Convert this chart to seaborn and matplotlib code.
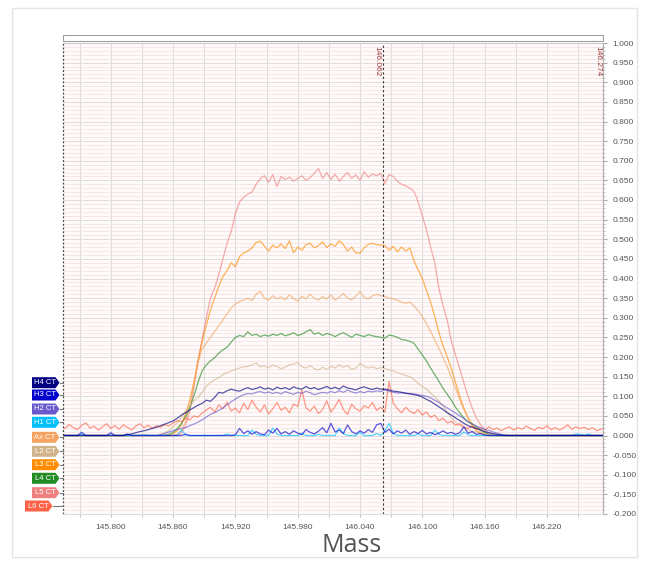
import numpy as np
import pandas as pd
import matplotlib
matplotlib.use("Agg")
import matplotlib.pyplot as plt
from matplotlib.patches import Polygon, Rectangle
from matplotlib.ticker import MultipleLocator, FormatStrFormatter
import seaborn as sns

# ---- data ----------------------------------------------------------
# mass axis: 132 points, 0.004 apart
mass = np.round(145.752 + 0.004 * np.arange(132), 3)

# intensities, in thousandths (12 values per row)
l5_ct = [
    0, 0, 0, 0, 0, 0, 0, 0, 0, 0, 0, 0,
    0, 0, 0, 0, 0, 0, 0, 0, 0, 0, 0, 0,
    0, 0, 0, 0, 0, 5, 25, 60, 120, 190, 245, 300,
    350, 375, 410, 450, 490, 520, 565, 595, 607, 615, 620, 640,
    655, 662, 645, 665, 634, 660, 652, 658, 648, 655, 662, 650,
    657, 668, 680, 655, 670, 652, 666, 648, 660, 670, 655, 664,
    650, 672, 658, 666, 662, 668, 642, 665, 660, 648, 640, 636,
    630, 622, 595, 560, 524, 480, 440, 375, 330, 294, 240, 205,
    170, 135, 100, 70, 45, 28, 15, 7, 3, 0, 0, 0,
    0, 0, 0, 0, 0, 0, 0, 0, 0, 0, 0, 0,
    0, 0, 0, 0, 0, 0, 0, 0, 0, 0, 0, 0,
]
l3_ct = [
    0, 0, 0, 0, 0, 0, 0, 0, 0, 0, 0, 0,
    0, 0, 0, 0, 0, 0, 0, 0, 0, 0, 0, 0,
    0, 0, 0, 4, 12, 28, 55, 90, 135, 190, 240, 280,
    320, 350, 380, 405, 420, 440, 430, 456, 465, 470, 478, 492,
    495, 482, 470, 485, 478, 488, 476, 496, 466, 480, 472, 486,
    490, 478, 484, 493, 479, 488, 482, 496, 486, 470, 480, 465,
    465, 478, 487, 490, 486, 485, 484, 472, 482, 468, 480, 470,
    478, 445, 422, 400, 370, 340, 303, 262, 228, 200, 170, 135,
    100, 70, 45, 25, 12, 5, 2, 0, 0, 0, 0, 0,
    0, 0, 0, 0, 0, 0, 0, 0, 0, 0, 0, 0,
    0, 0, 0, 0, 0, 0, 0, 0, 0, 0, 0, 0,
]
ax_ct = [
    0, 0, 0, 0, 0, 0, 0, 0, 0, 0, 0, 0,
    0, 0, 0, 0, 0, 0, 0, 0, 0, 0, 0, 0,
    0, 0, 0, 0, 3, 12, 35, 75, 130, 185, 220, 235,
    250, 265, 280, 295, 310, 325, 335, 342, 345, 350, 344, 360,
    367, 350, 345, 356, 348, 353, 346, 358, 350, 342, 355, 348,
    360, 350, 345, 354, 348, 358, 345, 352, 362, 350, 346, 355,
    367, 352, 348, 356, 360, 356, 354, 350, 348, 345, 340, 337,
    340, 330, 318, 303, 285, 265, 243, 222, 198, 175, 148, 120,
    92, 66, 45, 30, 18, 10, 5, 2, 0, 0, 0, 0,
    0, 0, 0, 0, 0, 0, 0, 0, 0, 0, 0, 0,
    0, 0, 0, 0, 0, 0, 0, 0, 0, 0, 0, 0,
]
l4_ct = [
    0, 0, 0, 0, 0, 0, 0, 0, 0, 0, 0, 0,
    0, 0, 0, 0, 0, 0, 0, 0, 0, 0, 0, 0,
    0, 0, 3, 8, 18, 30, 48, 70, 100, 135, 165, 180,
    190, 198, 210, 218, 225, 238, 250, 255, 252, 264, 255, 258,
    252, 256, 253, 258, 255, 260, 254, 257, 262, 255, 258, 264,
    270, 258, 262, 255, 260, 257, 252, 258, 262, 256, 250, 258,
    255, 252, 257, 254, 252, 250, 248, 256, 254, 250, 245, 243,
    240, 235, 220, 205, 190, 172, 155, 138, 120, 105, 90, 72,
    58, 45, 35, 30, 22, 15, 8, 3, 0, 0, 0, 0,
    0, 0, 0, 0, 0, 0, 0, 0, 0, 0, 0, 0,
    0, 0, 0, 0, 0, 0, 0, 0, 0, 0, 0, 0,
]
l2_ct = [
    0, 0, 0, 0, 0, 0, 0, 0, 0, 0, 0, 0,
    0, 0, 0, 0, 0, 0, 0, 0, 0, 0, 0, 0,
    3, 7, 13, 22, 33, 47, 62, 75, 88, 97, 110, 125,
    135, 142, 148, 155, 160, 165, 168, 172, 175, 176, 180, 185,
    175, 178, 172, 180, 176, 170, 174, 180, 182, 186, 175, 172,
    178, 170, 167, 174, 168, 176, 172, 180, 174, 178, 168, 172,
    184, 176, 172, 175, 170, 173, 171, 167, 165, 160, 157, 153,
    150, 142, 133, 125, 118, 108, 99, 88, 75, 60, 45, 34,
    26, 19, 15, 11, 9, 6, 4, 2, 0, 0, 0, 0,
    0, 0, 0, 0, 0, 0, 0, 0, 0, 0, 0, 0,
    0, 0, 0, 0, 0, 0, 0, 0, 0, 0, 0, 0,
]
l6_ct = [
    22, 18, 28, 20, 15, 26, 32, 19, 24, 14, 22, 30,
    18, 25, 16, 27, 21, 14, 24, 30, 20, 26, 18, 25,
    21, 28, 24, 32, 38, 35, 44, 40, 50, 47, 57, 65,
    72, 60, 78, 68, 85, 62, 70, 58, 82, 66, 90, 72,
    60, 78, 55, 68, 84, 64, 72, 58, 80, 74, 116, 70,
    62, 75, 56, 66, 88, 60, 74, 92, 66, 54, 80, 68,
    62, 76, 70, 84, 64, 72, 60, 138, 82, 68, 58, 72,
    62, 56, 66, 52, 60, 46, 52, 38, 44, 32, 36, 26,
    30, 22, 18, 24, 16, 20, 14, 22, 15, 19, 12, 18,
    22, 14, 20, 16, 24, 18, 13, 21, 17, 25, 15, 20,
    14, 19, 27, 16, 22, 18, 21, 15, 20, 12, 16, 19,
]
h4_ct = [
    0, 0, 0, 0, 0, 0, 0, 0, 0, 0, 0, 0,
    0, 0, 0, 0, 2, 4, 7, 10, 12, 15, 18, 21,
    25, 29, 33, 37, 44, 52, 58, 65, 71, 77, 82, 90,
    87, 97, 110, 108, 114, 118, 115, 113, 118, 122, 117, 120,
    124, 118, 121, 116, 123, 119, 122, 117, 124, 120, 118, 125,
    119, 122, 117, 121, 125, 119, 123, 118, 126, 121, 119, 116,
    121, 124, 120, 117, 121, 118, 118, 116, 113, 112, 110, 108,
    106, 104, 102, 98, 92, 87, 80, 73, 66, 58, 52, 45,
    38, 31, 25, 21, 18, 14, 10, 7, 5, 3, 1, 0,
    0, 0, 0, 0, 0, 0, 0, 0, 0, 0, 0, 0,
    0, 0, 0, 0, 0, 0, 0, 0, 0, 0, 0, 0,
]
h3_ct = [
    3, 0, 0, 0, 0, 8, 0, 0, 0, 0, 0, 0,
    7, 0, 0, 0, 4, 0, 0, 0, 0, 0, 0, 0,
    0, 0, 0, 0, 0, 0, 3, 0, 0, 0, 0, 0,
    0, 0, 0, 0, 0, 0, 2, 18, 5, 12, 3, 10,
    4, 2, 14, 6, 18, 4, 10, 3, 12, 6, 2, 15,
    8, 4, 11, 20, 7, 31, 9, 14, 5, 27, 10, 4,
    12, 6, 15, 8, 27, 31, 8, 16, 4, 12, 6, 14,
    3, 10, 5, 13, 4, 8, 2, 6, 12, 5, 8, 3,
    7, 22, 6, 10, 3, 5, 1, 0, 0, 0, 0, 0,
    0, 0, 0, 0, 0, 0, 0, 0, 0, 0, 0, 0,
    0, 0, 0, 0, 0, 0, 0, 0, 0, 0, 0, 0,
]
h2_ct = [
    0, 0, 0, 0, 0, 0, 0, 0, 0, 0, 0, 0,
    0, 0, 0, 0, 0, 0, 0, 0, 0, 0, 0, 0,
    2, 5, 9, 12, 15, 18, 20, 25, 29, 34, 40, 47,
    54, 58, 64, 70, 78, 86, 93, 99, 104, 107, 106, 110,
    112, 108, 111, 107, 110, 106, 112, 108, 105, 110, 107, 113,
    109, 104, 107, 110, 108, 112, 109, 114, 110, 116, 111, 108,
    112, 109, 113, 111, 114, 112, 116, 113, 110, 108, 109, 107,
    107, 106, 104, 102, 100, 96, 90, 84, 77, 70, 64, 57,
    50, 43, 35, 29, 24, 20, 16, 13, 9, 6, 3, 1,
    0, 0, 0, 0, 0, 0, 0, 0, 0, 0, 0, 0,
    0, 0, 0, 0, 0, 0, 0, 0, 0, 0, 0, 0,
]
h1_ct = [
    0, 0, 0, 0, 0, 3, 0, 0, 0, 0, 0, 0,
    0, 0, 0, 0, 0, 0, 0, 0, 2, 0, 0, 0,
    0, 0, 0, 0, 0, 14, 2, 0, 0, 0, 0, 0,
    0, 0, 0, 0, 4, 0, 0, 0, 0, 0, 14, 3,
    0, 0, 0, 19, 4, 0, 0, 0, 0, 0, 6, 0,
    0, 0, 3, 0, 0, 0, 0, 19, 5, 0, 0, 0,
    8, 0, 0, 0, 5, 0, 12, 31, 6, 0, 0, 0,
    0, 0, 4, 0, 0, 0, 14, 3, 0, 0, 0, 0,
    0, 9, 2, 0, 0, 0, 0, 0, 0, 0, 0, 0,
    0, 0, 0, 0, 0, 0, 0, 0, 0, 0, 0, 0,
    0, 0, 0, 0, 4, 3, 0, 4, 0, 0, 0, 0,
]

series = {
    "L5 CT": l5_ct, "L3 CT": l3_ct, "Ax CT": ax_ct, "L4 CT": l4_ct,
    "L2 CT": l2_ct, "L6 CT": l6_ct, "H2 CT": h2_ct, "H1 CT": h1_ct,
    "H3 CT": h3_ct, "H4 CT": h4_ct,
}
colors = {
    "H4 CT": "#000080", "H3 CT": "#0000cd", "H2 CT": "#6a5acd",
    "H1 CT": "#00bfff", "Ax CT": "#f4a460", "L2 CT": "#d2b48c",
    "L3 CT": "#ff8c00", "L4 CT": "#228b22", "L5 CT": "#f08080",
    "L6 CT": "#ff6347",
}
tag_names = ["H4 CT", "H3 CT", "H2 CT", "H1 CT", "Ax CT",
             "L2 CT", "L3 CT", "L4 CT", "L5 CT", "L6 CT"]
cursors = [146.062, 146.274]

frames = []
for name, vals in series.items():
    frames.append(pd.DataFrame({"Mass": mass,
                                "Intensity": np.array(vals) / 1000.0,
                                "Trace": name}))
df = pd.concat(frames, ignore_index=True)

# ---- figure --------------------------------------------------------
plt.rcParams["font.family"] = ["Liberation Sans", "DejaVu Sans"]
plt.rcParams["axes.unicode_minus"] = False

W, H = 646, 565
fig = plt.figure(figsize=(W / 100, H / 100), dpi=100)
ax = fig.add_axes([63 / W, 1 - 514 / H, 540 / W, 471 / H])
ax.set_facecolor("#fefafa")

sns.lineplot(data=df, x="Mass", y="Intensity", hue="Trace",
             hue_order=list(series.keys()), palette=colors,
             estimator=None, sort=False, legend=False,
             linewidth=0.9, alpha=0.65, ax=ax)

ax.set_xlim(145.754, 146.274)
ax.set_ylim(-0.2, 1.0)
ax.set_xlabel("")
ax.set_ylabel("")

ax.xaxis.set_major_locator(MultipleLocator(0.06))
ax.xaxis.set_minor_locator(MultipleLocator(0.03))
ax.yaxis.set_major_locator(MultipleLocator(0.05))
ax.yaxis.set_minor_locator(MultipleLocator(0.01))
ax.xaxis.set_major_formatter(FormatStrFormatter("%.3f"))
ax.yaxis.set_major_formatter(FormatStrFormatter("%.3f"))
ax.yaxis.tick_right()

ax.grid(which="both", axis="x", color="#dcdcdc", lw=0.8)
ax.grid(which="minor", axis="y", color="#f7e3e3", lw=0.6)
ax.grid(which="major", axis="y", color="#e4dcdc", lw=0.7)
ax.set_axisbelow(True)

ax.tick_params(axis="y", which="major", length=3, pad=4, color="#aaaaaa",
               labelsize=6, labelcolor="#555555")
ax.tick_params(axis="y", which="minor", length=1.5, color="#bbbbbb")
ax.tick_params(axis="x", which="both", length=2, pad=5, color="#bbbbbb",
               labelsize=6, labelcolor="#555555")

ax.spines["left"].set_visible(False)
ax.spines["top"].set_color("#cccccc")
ax.spines["right"].set_color("#b0b0b0")
ax.spines["bottom"].set_color("#dddddd")

# dotted edge line and cursors
ax.axvline(145.754, color="#444444", ls=(0, (1.5, 1.5)), lw=0.9, clip_on=False)
for c in cursors:
    ax.axvline(c, color="#333333", ls=(0, (2, 2)), lw=0.8)
    ax.annotate(f"{c:.3f}", xy=(c, 1.0), xytext=(-1.5, -2),
                textcoords="offset points", rotation=270, ha="right",
                va="top", fontsize=6, color="#a03a3a")

# overview bar above plot
fig.add_artist(Rectangle((63 / W, 1 - 41 / H), 540 / W, 6 / H,
                         transform=fig.transFigure, fc="white",
                         ec="#a0a0a0", lw=0.8))
# light frame
fig.add_artist(Rectangle((12 / W, 1 - 557 / H), 625 / W, 549 / H,
                         transform=fig.transFigure, fill=False,
                         ec="#e4e4e4", lw=1))

# trace tags on the left
tag_y = [382.7, 395, 409, 422.3, 437.3, 451.3, 464.7, 478.3, 492.7, 506]
for name, yc in zip(tag_names, tag_y):
    x0 = 25 if name == "L6 CT" else 32
    x1, x2 = x0 + 23.5, x0 + 27.5
    pts = [(x0, yc - 5.5), (x1, yc - 5.5), (x2, yc), (x1, yc + 5.5), (x0, yc + 5.5)]
    pts = [(px / W, 1 - py / H) for px, py in pts]
    fig.add_artist(Polygon(pts, closed=True, transform=fig.transFigure,
                           fc=colors[name], ec="none"))
    fig.add_artist(plt.Line2D([x2 / W, 63 / W], [1 - yc / H, 1 - yc / H],
                              transform=fig.transFigure, color="#777777", lw=0.8))
    fig.text((x0 + 13) / W, 1 - yc / H, name, ha="center", va="center",
             fontsize=5.5, color="white")

fig.text(352 / W, 1 - 545 / H, "Mass", ha="center", va="center",
         fontsize=18, color="#555555", family=["Open Sans", "DejaVu Sans"])

fig.savefig("out.png", dpi=100, facecolor="white")
